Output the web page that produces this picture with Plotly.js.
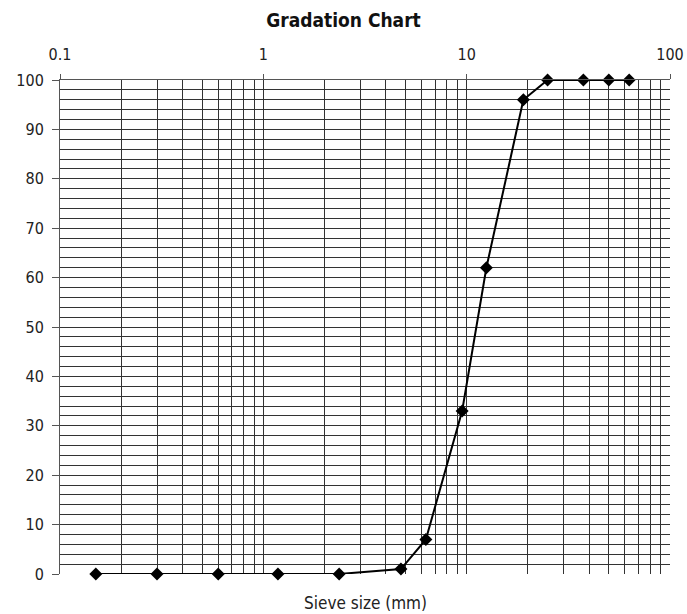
<!DOCTYPE html>
<html>
<head>
<meta charset="utf-8">
<script src="https://cdn.plot.ly/plotly-3.0.1.min.js"></script>
<style>
  html, body { margin: 0; padding: 0; background: #fff; }
  #chart { width: 687px; height: 614px; }
</style>
</head>
<body>
<div id="chart"></div>
<script>
// Sieve sizes (mm) and cumulative percent passing
const sieveSizes = [0.15, 0.3, 0.6, 1.18, 2.36, 4.75, 6.3, 9.5, 12.5, 19, 25, 37.5, 50, 63];
const percentPassing = [0, 0, 0, 0, 0, 1, 7, 33, 62, 96, 100, 100, 100, 100];
const yTickValues = [0, 10, 20, 30, 40, 50, 60, 70, 80, 90, 100];
const xTickValues = [0.1, 1, 10, 100];
const xTickLabels = ['0.1', '1', '10', '100'];

const FONT = '"Liberation Sans Narrow", "DejaVu Sans Condensed", "Arial Narrow", sans-serif';
const GRID = '#333';

const trace = {
  x: sieveSizes,
  y: percentPassing,
  type: 'scatter',
  mode: 'lines+markers',
  cliponaxis: false,
  line: { color: '#000', width: 2 },
  marker: { symbol: 'diamond', size: 10, color: '#000' },
  hoverinfo: 'x+y'
};

const layout = {
  width: 687,
  height: 614,
  margin: { l: 60, r: 17, t: 80, b: 40 },
  paper_bgcolor: '#fff',
  plot_bgcolor: '#fff',
  showlegend: false,
  font: { family: FONT, size: 16, color: '#222' },
  title: {
    text: '<b>Gradation Chart</b>',
    font: { family: FONT, size: 19, color: '#111' },
    x: 0.5, xanchor: 'center',
    y: 0.967, yanchor: 'middle'
  },
  xaxis: {
    type: 'log',
    side: 'top',
    range: [-1, 2],
    tickvals: xTickValues,
    ticktext: xTickLabels,
    ticks: 'outside',
    ticklen: 5,
    tickcolor: '#555',
    ticklabelstandoff: 8,
    showgrid: true,
    gridcolor: GRID,
    gridwidth: 1,
    minor: { dtick: 'D1', showgrid: true, gridcolor: GRID, gridwidth: 1, ticks: '' },
    showline: true,
    linecolor: '#555',
    linewidth: 1,
    mirror: false,
    zeroline: false,
    tickfont: { family: FONT, size: 16, color: '#222' }
  },
  yaxis: {
    range: [0, 100],
    tickvals: yTickValues,
    ticks: 'outside',
    ticklen: 7,
    tickcolor: '#555',
    ticklabelstandoff: 5,
    showgrid: true,
    gridcolor: GRID,
    gridwidth: 1,
    minor: { dtick: 2, showgrid: true, gridcolor: GRID, gridwidth: 1, ticks: '' },
    showline: true,
    linecolor: '#555',
    linewidth: 1,
    zeroline: false,
    tickfont: { family: FONT, size: 16, color: '#222' }
  },
  annotations: [{
    text: 'Sieve size (mm)',
    xref: 'paper', yref: 'paper',
    x: 0.5, y: -0.0587,
    xanchor: 'center', yanchor: 'middle',
    showarrow: false,
    font: { family: FONT, size: 17, color: '#222' }
  }]
};

Plotly.newPlot('chart', [trace], layout, { displayModeBar: false, staticPlot: true });
</script>
</body>
</html>
